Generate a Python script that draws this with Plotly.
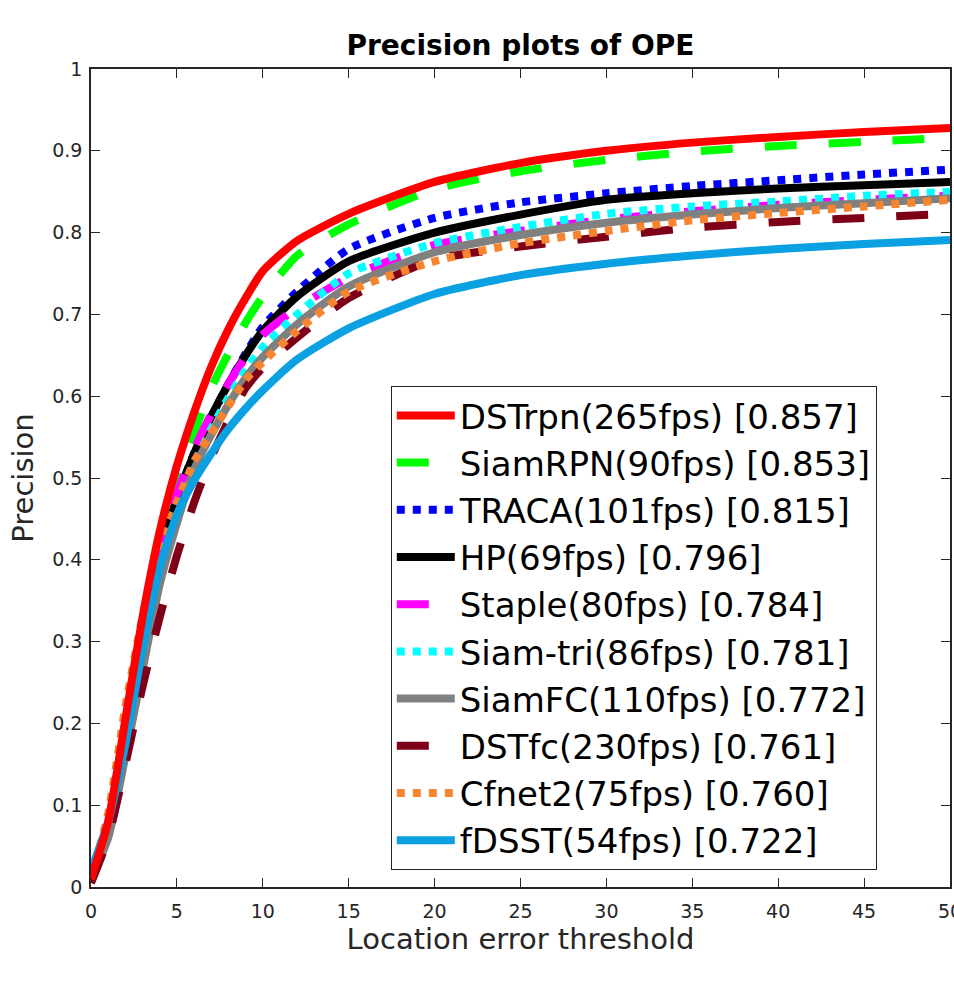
import plotly.graph_objects as go

thresholds = [0, 1, 2, 3, 4, 5, 6, 7, 8, 9, 10, 12, 15, 20, 25, 30, 35, 40, 45, 50]

names = ["DSTrpn(265fps) [0.857]", "SiamRPN(90fps) [0.853]", "TRACA(101fps) [0.815]",
         "HP(69fps) [0.796]", "Staple(80fps) [0.784]", "Siam-tri(86fps) [0.781]",
         "SiamFC(110fps) [0.772]", "DSTfc(230fps) [0.761]", "Cfnet2(75fps) [0.760]",
         "fDSST(54fps) [0.722]"]

dstrpn   = [0.01, 0.08, 0.205, 0.33, 0.435, 0.515, 0.58, 0.636, 0.682, 0.72, 0.753, 0.79, 0.823, 0.862, 0.885, 0.900, 0.910, 0.917, 0.923, 0.928]
siamrpn  = [0.01, 0.075, 0.20, 0.32, 0.425, 0.50, 0.555, 0.61, 0.652, 0.69, 0.722, 0.772, 0.81, 0.853, 0.875, 0.889, 0.899, 0.906, 0.911, 0.916]
traca    = [0.01, 0.07, 0.19, 0.305, 0.405, 0.475, 0.53, 0.575, 0.615, 0.652, 0.685, 0.728, 0.78, 0.818, 0.837, 0.848, 0.857, 0.864, 0.871, 0.877]
hp       = [0.01, 0.07, 0.19, 0.305, 0.405, 0.475, 0.53, 0.575, 0.615, 0.65, 0.68, 0.722, 0.765, 0.80, 0.822, 0.84, 0.848, 0.854, 0.858, 0.862]
staple   = [0.01, 0.075, 0.195, 0.31, 0.41, 0.48, 0.535, 0.578, 0.615, 0.648, 0.675, 0.708, 0.745, 0.785, 0.802, 0.816, 0.826, 0.834, 0.84, 0.845]
siamtri  = [0.01, 0.07, 0.175, 0.28, 0.38, 0.45, 0.515, 0.56, 0.598, 0.632, 0.66, 0.70, 0.75, 0.787, 0.807, 0.823, 0.832, 0.838, 0.845, 0.85]
siamfc   = [0.01, 0.06, 0.16, 0.265, 0.37, 0.445, 0.51, 0.553, 0.59, 0.622, 0.648, 0.688, 0.734, 0.776, 0.797, 0.812, 0.822, 0.83, 0.836, 0.842]
dstfc    = [0.005, 0.06, 0.15, 0.245, 0.33, 0.405, 0.47, 0.525, 0.57, 0.61, 0.635, 0.672, 0.72, 0.767, 0.783, 0.795, 0.806, 0.813, 0.818, 0.823]
cfnet2   = [0.01, 0.09, 0.22, 0.33, 0.415, 0.47, 0.52, 0.555, 0.588, 0.62, 0.642, 0.68, 0.728, 0.765, 0.787, 0.802, 0.815, 0.824, 0.832, 0.84]
fdsst    = [0.02, 0.08, 0.175, 0.29, 0.39, 0.455, 0.497, 0.53, 0.56, 0.585, 0.607, 0.645, 0.683, 0.725, 0.748, 0.762, 0.772, 0.78, 0.786, 0.791]

series = [dstrpn, siamrpn, traca, hp, staple, siamtri, siamfc, dstfc, cfnet2, fdsst]
colors = ["#ff0000", "#00ff00", "#0000ff", "#000000", "#ff00ff", "#00ffff",
          "#808080", "#7d0018", "#f7842f", "#0aa0e2"]
dashes = ["solid", "32px,32px", "8px,8px", "solid", "32px,32px", "8px,8px",
          "solid", "32px,32px", "8px,8px", "solid"]

xticks = [0, 5, 10, 15, 20, 25, 30, 35, 40, 45, 50]
yticks = [0, 0.1, 0.2, 0.3, 0.4, 0.5, 0.6, 0.7, 0.8, 0.9, 1]
ytext = ["0", "0.1", "0.2", "0.3", "0.4", "0.5", "0.6", "0.7", "0.8", "0.9", "1"]

fig = go.Figure()
# draw order: others first, DSTrpn last (on top)
draw_order = list(range(1, len(series))) + [0]
for i in draw_order:
    fig.add_trace(go.Scatter(
        x=thresholds, y=series[i], mode="lines", name=names[i],
        line=dict(color=colors[i], width=8, dash=dashes[i], shape="spline", smoothing=0.6),
        legendrank=i + 1,
    ))

axis_common = dict(
    showline=True, mirror="ticks", linecolor="#262626", linewidth=1.5,
    ticks="inside", ticklen=9, tickwidth=1.2, tickcolor="#262626",
    showgrid=False, zeroline=False, ticklabeloverflow="allow", automargin=False,
    tickfont=dict(family="DejaVu Sans", size=19, color="#262626"),
)

fig.update_layout(
    width=954, height=985,
    margin=dict(l=91, r=4, t=69, b=98, autoexpand=False),
    paper_bgcolor="white", plot_bgcolor="white",
    title=dict(text="<b>Precision plots of OPE</b>", x=0.5, xanchor="center",
               xref="paper", y=1, yref="container", yanchor="top", pad=dict(t=35),
               font=dict(family="DejaVu Sans", size=28, color="black")),
    xaxis=dict(range=[0, 50], tickvals=xticks, ticktext=[str(t) for t in xticks],
               title=dict(text="Location error threshold", standoff=8,
                          font=dict(family="DejaVu Sans", size=29, color="#262626")),
               ticklabelstandoff=6, **axis_common),
    yaxis=dict(range=[0, 1], tickvals=yticks, ticktext=ytext,
               title=dict(text="Precision", standoff=10,
                          font=dict(family="DejaVu Sans", size=29, color="#262626")),
               ticklabelstandoff=3, **axis_common),
    legend=dict(x=0.349, y=0.021, xanchor="left", yanchor="bottom",
                bgcolor="white", bordercolor="#262626", borderwidth=1,
                font=dict(family="DejaVu Sans", size=34, color="black"),
                itemwidth=58, tracegroupgap=0),
    showlegend=True,
)

fig.write_html("out.html")
